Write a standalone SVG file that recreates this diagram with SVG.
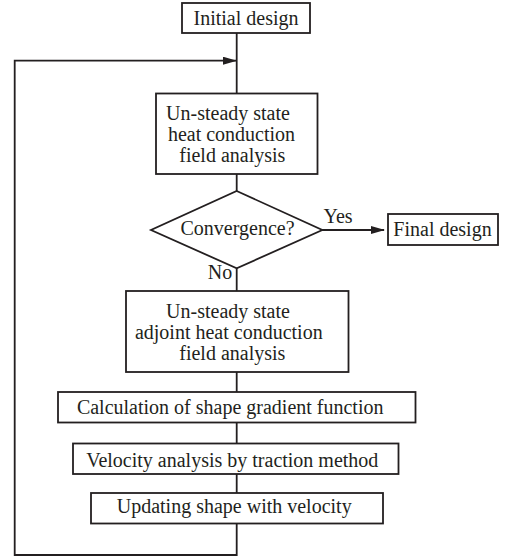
<svg xmlns="http://www.w3.org/2000/svg" width="513" height="559" viewBox="0 0 513 559">
<style>
.b{fill:#fff;stroke:#231f20;stroke-width:1.8}
.c{fill:none;stroke:#231f20;stroke-width:1.8}
text{font-family:"Liberation Serif","Times New Roman",serif;font-size:20px;fill:#231f20;text-anchor:middle}
</style>
<defs>
<marker id="ah" markerWidth="14" markerHeight="8" refX="13" refY="4" orient="auto" markerUnits="userSpaceOnUse">
<path d="M0,0 L14,4 L0,8 Z" fill="#231f20"/>
</marker>
</defs>
<g id="connectors">
<path class="c" d="M236.7,33 V93"/>
<path class="c" d="M236.7,174 V191"/>
<path class="c" d="M236.7,268 V291"/>
<path class="c" d="M236.7,372 V392"/>
<path class="c" d="M236.7,422 V443"/>
<path class="c" d="M236.7,474 V493"/>
<path class="c" d="M236.7,523 V555 H14.7 V60.7 H236" marker-end="url(#ah)"/>
<path class="c" d="M322,230 H384" marker-end="url(#ah)"/>
<text x="338" y="223">Yes</text>
<text x="220" y="279">No</text>
</g>
<g id="n1"><rect class="b" x="182" y="3" width="128" height="30"/><text x="246" y="25">Initial design</text></g>
<g id="n2"><rect class="b" x="156" y="93.5" width="161.5" height="80.5"/>
<text x="228" y="120">Un-steady state</text><text x="231.5" y="141">heat conduction</text><text x="232.3" y="162">field analysis</text></g>
<g id="n3"><path class="b" d="M236.7,191 L322.3,230 L236.7,268.3 L151,230 Z"/><text x="237.5" y="234.5">Convergence?</text></g>
<g id="n4"><rect class="b" x="388" y="214" width="110" height="31"/><text x="442.5" y="235.5">Final design</text></g>
<g id="n5"><rect class="b" x="126" y="291" width="222.5" height="81"/>
<text x="228" y="317.5">Un-steady state</text><text x="228.8" y="339">adjoint heat conduction</text><text x="232.3" y="360">field analysis</text></g>
<g id="n6"><rect class="b" x="58" y="392" width="357.5" height="30.5"/><text x="230.2" y="414">Calculation of shape gradient function</text></g>
<g id="n7"><rect class="b" x="73" y="443.5" width="325.5" height="30.5"/><text x="232.3" y="466.5">Velocity analysis by traction method</text></g>
<g id="n8"><rect class="b" x="91" y="493" width="292" height="30.5"/><text x="234.2" y="513">Updating shape with velocity</text></g>
</svg>
